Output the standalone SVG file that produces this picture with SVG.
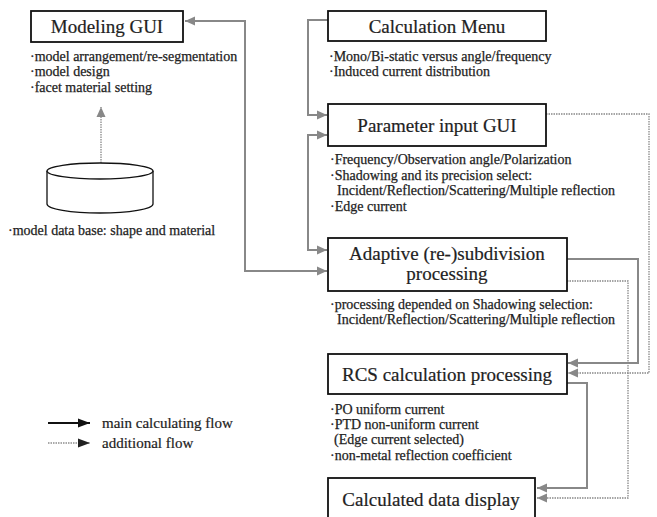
<svg xmlns="http://www.w3.org/2000/svg" width="657" height="517" viewBox="0 0 657 517">
<style>
.box{fill:#fff;stroke:#111;stroke-width:1.8}
.title{font-size:19px;fill:#222;stroke:#222;stroke-width:0.2;text-anchor:middle}
.b{font-size:14px;fill:#222;stroke:#222;stroke-width:0.25}
.lg{font-size:15px;fill:#222;stroke:#222;stroke-width:0.2}
.solid{fill:none;stroke:#888;stroke-width:2}
.dot{fill:none;stroke:#888;stroke-width:1.3;stroke-dasharray:1.5 1}
</style>
<defs>
<marker id="ah" markerUnits="userSpaceOnUse" markerWidth="11" markerHeight="10" refX="10" refY="5" orient="auto-start-reverse" viewBox="0 0 11 10">
<path d="M0,0.5 L10,5 L0,9.5 z" fill="#888"/>
</marker>
<marker id="ahk" markerUnits="userSpaceOnUse" markerWidth="13" markerHeight="10" refX="12" refY="5" orient="auto" viewBox="0 0 13 10">
<path d="M0,0.5 L12,5 L0,9.5 z" fill="#111"/>
</marker>
<marker id="ahd" markerUnits="userSpaceOnUse" markerWidth="13" markerHeight="10" refX="12" refY="5" orient="auto" viewBox="0 0 13 10">
<path d="M0,0.5 L12,5 L0,9.5 z" fill="#222"/>
</marker>
</defs>
<rect width="657" height="517" fill="#fff"/>

<g id="connectors">
<path class="solid" d="M185,21 H245 V271 H327" marker-start="url(#ah)" marker-end="url(#ah)"/>
<path class="solid" d="M328,20 H308 V115 H327" marker-end="url(#ah)"/>
<path class="solid" d="M327,135 H308 V250 H327" marker-start="url(#ah)" marker-end="url(#ah)"/>
<path class="dot" d="M546,114 H649 V373 H568" marker-end="url(#ah)"/>
<path class="solid" d="M567,259 H638 V363 H568" marker-end="url(#ah)"/>
<path class="dot" d="M567,281 H628 V498 H537" marker-end="url(#ah)"/>
<path class="solid" d="M567,383 H587 V488 H537" marker-end="url(#ah)"/>
<path class="dot" d="M101,163 V107" marker-end="url(#ah)"/>
</g>

<g font-family="Liberation Serif, DejaVu Serif, serif">
<g id="modeling-gui">
<rect class="box" x="31" y="11" width="152" height="31"/>
<text class="title" x="107" y="33">Modeling GUI</text>
<text class="b" x="30" y="61">·model arrangement/re-segmentation</text>
<text class="b" x="30" y="76">·model design</text>
<text class="b" x="30" y="92">·facet material setting</text>
</g>

<g id="model-database">
<path d="M47,171 V204 A53,9 0 0 0 153,204 V171" fill="#fff" stroke="#111" stroke-width="1.3"/>
<ellipse cx="100" cy="171" rx="53" ry="8" fill="#fff" stroke="#111" stroke-width="1.3"/>
<text class="b" x="8" y="235">·model data base: shape and material</text>
</g>

<g id="calculation-menu">
<rect class="box" x="328" y="11" width="218" height="30"/>
<text class="title" x="437" y="33">Calculation Menu</text>
<text class="b" x="329" y="61">·Mono/Bi-static versus angle/frequency</text>
<text class="b" x="329" y="76">·Induced current distribution</text>
</g>

<g id="parameter-input-gui">
<rect class="box" x="328" y="104" width="218" height="42"/>
<text class="title" x="437" y="132">Parameter input GUI</text>
<text class="b" x="330" y="164">·Frequency/Observation angle/Polarization</text>
<text class="b" x="330" y="180">·Shadowing and its precision select:</text>
<text class="b" x="337" y="195">Incident/Reflection/Scattering/Multiple reflection</text>
<text class="b" x="330" y="211">·Edge current</text>
</g>

<g id="adaptive-subdivision">
<rect class="box" x="328" y="238" width="239" height="53"/>
<text class="title" x="447" y="260">Adaptive (re-)subdivision</text>
<text class="title" x="447" y="280">processing</text>
<text class="b" x="330" y="309">·processing depended on Shadowing selection:</text>
<text class="b" x="337" y="324">Incident/Reflection/Scattering/Multiple reflection</text>
</g>

<g id="rcs-calculation">
<rect class="box" x="328" y="354" width="239" height="40"/>
<text class="title" x="447" y="381">RCS calculation processing</text>
<text class="b" x="330" y="414">·PO uniform current</text>
<text class="b" x="330" y="429">·PTD non-uniform current</text>
<text class="b" x="334" y="444">(Edge current selected)</text>
<text class="b" x="330" y="460">·non-metal reflection coefficient</text>
</g>

<g id="calculated-data-display">
<rect class="box" x="328" y="478" width="207" height="50"/>
<text class="title" x="431" y="506">Calculated data display</text>
</g>

<g id="legend">
<line x1="48" y1="423" x2="90" y2="423" stroke="#111" stroke-width="2" marker-end="url(#ahk)"/>
<text class="lg" x="102" y="428">main calculating flow</text>
<line x1="48" y1="443" x2="90" y2="443" stroke="#555" stroke-width="1.2" stroke-dasharray="1.5 1" marker-end="url(#ahd)"/>
<text class="lg" x="102" y="448">additional flow</text>
</g>
</g>
</svg>
